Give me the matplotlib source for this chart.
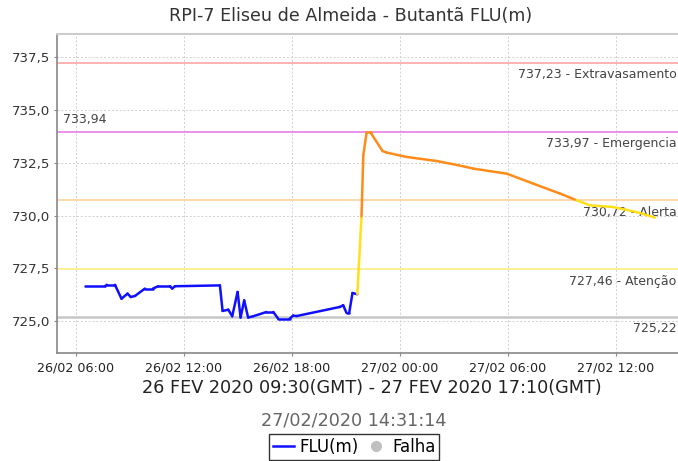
import matplotlib
matplotlib.use("Agg")
import matplotlib.pyplot as plt
import matplotlib.dates as mdates
from matplotlib.lines import Line2D
import numpy as np
from datetime import datetime

plt.rcParams['font.family'] = ['DejaVu Sans']

title = "RPI-7 Eliseu de Almeida - Butantã FLU(m)"
xlabel = "26 FEV 2020 09:30(GMT) - 27 FEV 2020 17:10(GMT)"
subtitle = "27/02/2020 14:31:14"

times = [
    "26/02 06:30", "26/02 07:37", "26/02 07:43", "26/02 08:10", "26/02 08:32",
    "26/02 08:52", "26/02 09:03", "26/02 09:17", "26/02 09:50", "26/02 10:17",
    "26/02 10:34", "26/02 11:13", "26/02 11:21", "26/02 11:30", "26/02 14:00",
    "26/02 14:09", "26/02 14:28", "26/02 14:41", "26/02 14:59", "26/02 15:09",
    "26/02 15:21", "26/02 15:34", "26/02 15:51", "26/02 16:35", "26/02 16:58",
    "26/02 17:14", "26/02 17:53", "26/02 18:04", "26/02 18:16", "26/02 20:40",
    "26/02 20:51", "26/02 21:02", "26/02 21:11", "26/02 21:22", "26/02 21:38",
    "26/02 21:52", "26/02 21:58", "26/02 22:09", "26/02 22:22", "26/02 23:02",
    "26/02 23:15", "27/02 00:22", "27/02 02:02", "27/02 03:14", "27/02 04:04",
    "27/02 05:56", "27/02 07:24", "27/02 08:53", "27/02 09:49", "27/02 10:33",
    "27/02 11:51", "27/02 13:09", "27/02 14:10",
]
values = [
    726.66, 726.66, 726.73, 726.73, 726.07,
    726.31, 726.15, 726.20, 726.55, 726.55,
    726.66, 726.66, 726.55, 726.66, 726.70,
    725.49, 725.55, 725.24, 726.39, 725.18,
    725.99, 725.18, 725.24, 725.44, 725.44,
    725.13, 725.13, 725.27, 725.25, 725.68,
    725.76, 725.40, 725.40, 726.34, 726.28,
    729.97, 732.86, 733.94, 733.94, 733.06,
    732.99, 732.78, 732.59, 732.39, 732.23,
    731.99, 731.52, 731.05, 730.73, 730.49,
    730.41, 730.17, 729.91,
]

ref_values = [737.23, 733.97, 730.72, 727.46, 725.22]
ref_labels = ["737,23 - Extravasamento", "733,97 - Emergencia", "730,72 - Alerta",
              "727,46 - Atenção", "725,22"]
ref_colors = ["#ffadad", "#e889e8", "#ffd6a6", "#fff08a", "#c8c8c8"]
ref_widths = [1.3, 1.3, 1.3, 1.3, 1.8]

max_label = "733,94"
xticks = ["26/02 06:00", "26/02 12:00", "26/02 18:00", "27/02 00:00", "27/02 06:00", "27/02 12:00"]
yticks = [725.0, 727.5, 730.0, 732.5, 735.0, 737.5]

def parse(s):
    return datetime.strptime("2020/" + s, "%Y/%d/%m %H:%M")

t = mdates.date2num([parse(s) for s in times])
v = np.array(values)

fig = plt.figure(figsize=(6.78, 4.61), dpi=100)
ax = fig.add_axes([57/678, 1 - 353/461, 1 - 57/678, (353 - 34)/461])

ax.set_xlim(mdates.date2num(datetime(2020, 2, 26, 4, 57)), mdates.date2num(datetime(2020, 2, 27, 15, 27)))
ax.set_ylim(723.5, 738.6)

ax.set_yticks(yticks)
ax.set_yticklabels([f"{y:.1f}".replace(".", ",") for y in yticks], fontsize=9.6, color="#333333")
ax.set_xticks(mdates.date2num([parse(s) for s in xticks]))
ax.set_xticklabels(xticks, fontsize=9.2, color="#222222")
ax.tick_params(axis="both", length=2, width=0.8, color="#888888", pad=3)
ax.tick_params(axis="x", pad=4)

ax.grid(True, color="#cfcfcf", linestyle=(0, (2, 2)), linewidth=0.7)
ax.set_axisbelow(True)
ax.spines["right"].set_visible(False)
ax.spines["top"].set_color("#cccccc")
ax.spines["top"].set_linewidth(1.5)
ax.spines["left"].set_color("#888888")
ax.spines["bottom"].set_color("#888888")
ax.spines["left"].set_linewidth(1.2)
ax.spines["bottom"].set_linewidth(1.2)

for rv, lab, col, lw in zip(ref_values, ref_labels, ref_colors, ref_widths):
    ax.axhline(rv, color=col, linewidth=lw, zorder=2)
    ax.annotate(lab, xy=(1.0, rv), xycoords=("axes fraction", "data"),
                xytext=(-1, -4), textcoords="offset points", ha="right", va="top",
                fontsize=9, color="#444444", annotation_clip=False)

ax.annotate(max_label, xy=(0.0, ref_values[1]), xycoords=("axes fraction", "data"),
            xytext=(4, 4), textcoords="offset points", ha="left", va="bottom",
            fontsize=9, color="#444444")

def seg_color(val):
    if val < ref_values[3]:
        return "#1010ff"
    if val < ref_values[2]:
        return "#ffe01a"
    if val < ref_values[1]:
        return "#ff8c1a"
    return "#ff2020"

for i in range(len(t) - 1):
    ax.plot(t[i:i+2], v[i:i+2], color=seg_color(v[i+1]), linewidth=1.8,
            solid_capstyle="round", zorder=3)

fig.text(351/678, 1 - 16/461, title, ha="center", va="center", fontsize=12.6, color="#333333")
fig.text(372/678, 1 - 388/461, xlabel, ha="center", va="center", fontsize=12.7, color="#222222")
fig.text(354/678, 1 - 420/461, subtitle, ha="center", va="center", fontsize=12.7, color="#666666")

handles = [Line2D([0], [0], color="#1010ff", linewidth=1.8),
           Line2D([0], [0], marker="o", linestyle="none", markersize=7,
                  markerfacecolor="#c0c0c0", markeredgecolor="#c0c0c0")]
leg = fig.legend(handles, ["FLU(m)", "Falha"], loc="center", ncol=2,
                 bbox_to_anchor=(354/678, 1 - 447/461), frameon=True, fancybox=False,
                 fontsize=12, handlelength=1.3, handletextpad=0.3, columnspacing=0.4,
                 borderpad=0.25, borderaxespad=0)
leg.get_frame().set_edgecolor("#000000")
leg.get_frame().set_linewidth(1.0)

fig.savefig("out.png", dpi=100)
